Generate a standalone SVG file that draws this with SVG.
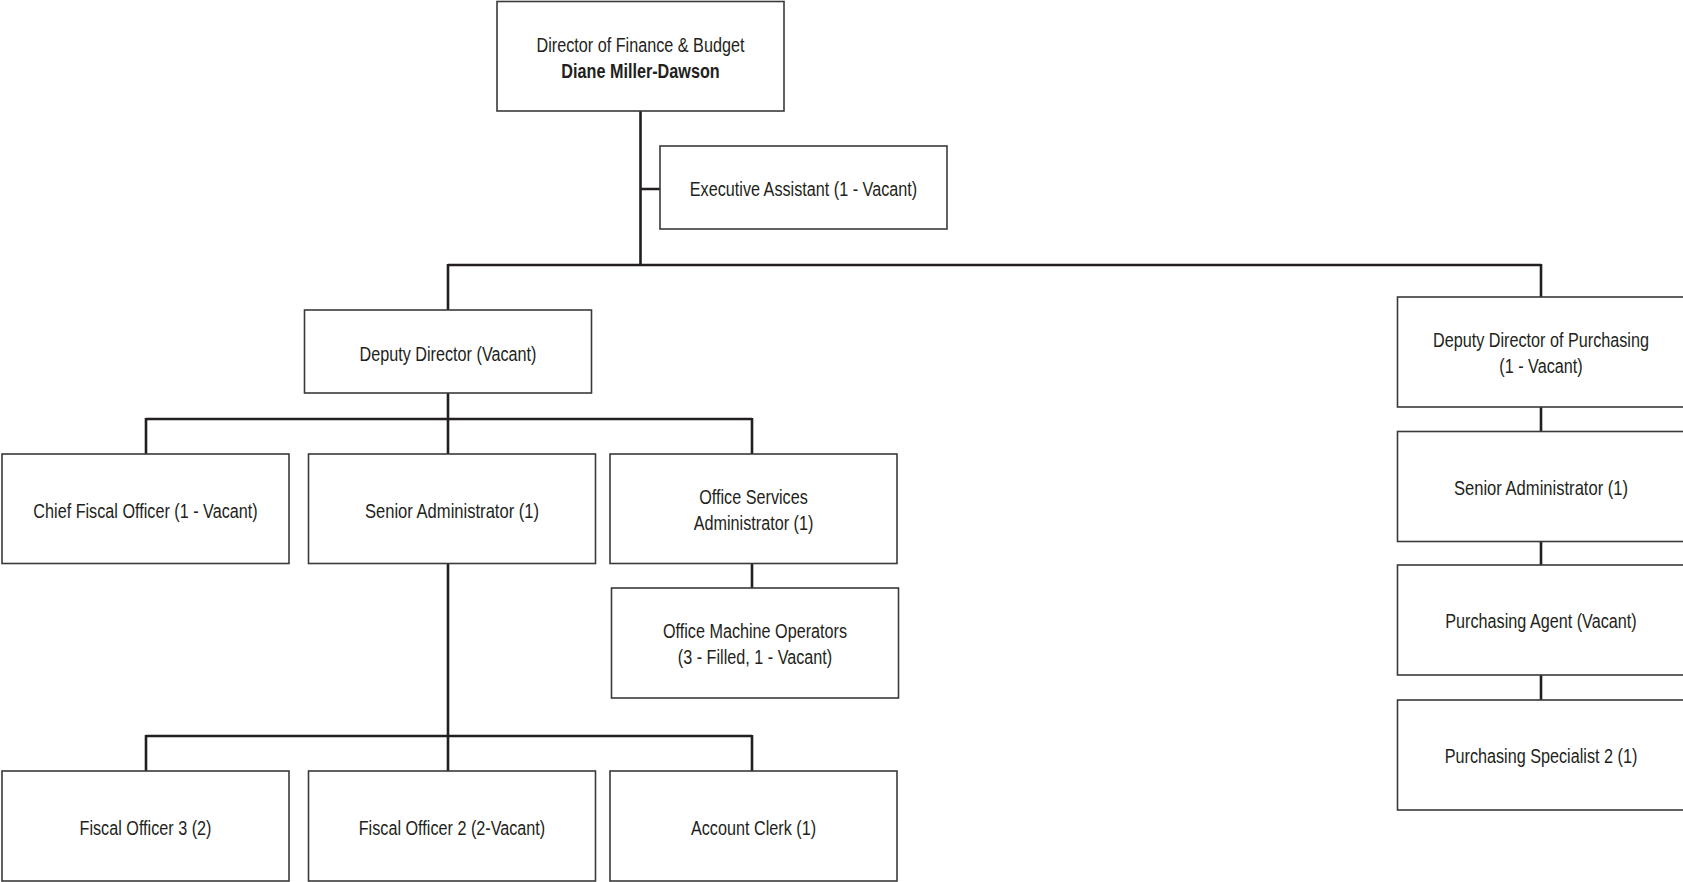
<svg xmlns="http://www.w3.org/2000/svg" width="1683" height="882" viewBox="0 0 1683 882">
  <style>
    .box { fill: #ffffff; stroke: #3a3a3a; stroke-width: 1.6; }
    .lbl { font-family: "Liberation Sans", Arial, sans-serif; font-size: 20px; fill: #231f20; text-anchor: middle; }
    .b { font-weight: bold; }
    .link { fill: none; stroke: #231f20; stroke-width: 2.6; stroke-linecap: butt; }
  </style>
  <rect width="1683" height="882" fill="#ffffff"/>

  <!-- reporting lines -->
  <g id="connectors">
    <path class="link" d="M640.5 111 V265 M640.5 189 H660"/>
    <path class="link" d="M448 265 H1541 M448 264 V310 M1541 264 V297"/>
    <path class="link" d="M448 393 V419 M146 419 H752 M146 418 V454 M448 419 V454 M752 418 V454"/>
    <path class="link" d="M448 563.5 V736 M146 736 H752 M146 735 V771 M448 736 V771 M752 735 V771"/>
    <path class="link" d="M752 563.5 V588"/>
    <path class="link" d="M1541 407 V431.5 M1541 541.5 V565 M1541 675 V700"/>
  </g>

  <!-- labels are set narrow: each text is anchored at its centre/baseline and squeezed horizontally -->
  <g id="director">
    <rect class="box" x="497" y="1.5" width="287" height="109.5"/>
    <text class="lbl" transform="translate(640.5 52) scale(0.81 1)">Director of Finance &amp; Budget</text>
    <text class="lbl b" transform="translate(640.5 78) scale(0.81 1)">Diane Miller-Dawson</text>
  </g>

  <g id="executive-assistant">
    <rect class="box" x="660" y="146" width="287" height="83"/>
    <text class="lbl" transform="translate(803.5 196) scale(0.81 1)">Executive Assistant (1 - Vacant)</text>
  </g>

  <g id="deputy-director">
    <rect class="box" x="304.5" y="310" width="287" height="83"/>
    <text class="lbl" transform="translate(448 361) scale(0.81 1)">Deputy Director (Vacant)</text>
  </g>

  <g id="chief-fiscal-officer">
    <rect class="box" x="2" y="454" width="287" height="109.5"/>
    <text class="lbl" transform="translate(145.5 518) scale(0.81 1)">Chief Fiscal Officer (1 - Vacant)</text>
  </g>

  <g id="senior-administrator">
    <rect class="box" x="308.5" y="454" width="287" height="109.5"/>
    <text class="lbl" transform="translate(452 518) scale(0.83 1)">Senior Administrator (1)</text>
  </g>

  <g id="office-services-administrator">
    <rect class="box" x="610" y="454" width="287" height="109.5"/>
    <text class="lbl" transform="translate(753.5 504) scale(0.81 1)">Office Services</text>
    <text class="lbl" transform="translate(753.5 530) scale(0.81 1)">Administrator (1)</text>
  </g>

  <g id="office-machine-operators">
    <rect class="box" x="611.5" y="588" width="287" height="110"/>
    <text class="lbl" transform="translate(755 638) scale(0.81 1)">Office Machine Operators</text>
    <text class="lbl" transform="translate(755 664) scale(0.81 1)">(3 - Filled, 1 - Vacant)</text>
  </g>

  <g id="fiscal-officer-3">
    <rect class="box" x="2" y="771" width="287" height="110"/>
    <text class="lbl" transform="translate(145.5 835) scale(0.81 1)">Fiscal Officer 3 (2)</text>
  </g>

  <g id="fiscal-officer-2">
    <rect class="box" x="308.5" y="771" width="287" height="110"/>
    <text class="lbl" transform="translate(452 835) scale(0.81 1)">Fiscal Officer 2 (2-Vacant)</text>
  </g>

  <g id="account-clerk">
    <rect class="box" x="610" y="771" width="287" height="110"/>
    <text class="lbl" transform="translate(753.5 835) scale(0.81 1)">Account Clerk (1)</text>
  </g>

  <g id="deputy-director-purchasing">
    <rect class="box" x="1397.5" y="297" width="287" height="110"/>
    <text class="lbl" transform="translate(1541 347) scale(0.81 1)">Deputy Director of Purchasing</text>
    <text class="lbl" transform="translate(1541 373) scale(0.81 1)">(1 - Vacant)</text>
  </g>

  <g id="senior-administrator-purchasing">
    <rect class="box" x="1397.5" y="431.5" width="287" height="110"/>
    <text class="lbl" transform="translate(1541 495) scale(0.83 1)">Senior Administrator (1)</text>
  </g>

  <g id="purchasing-agent">
    <rect class="box" x="1397.5" y="565" width="287" height="110"/>
    <text class="lbl" transform="translate(1541 628) scale(0.81 1)">Purchasing Agent (Vacant)</text>
  </g>

  <g id="purchasing-specialist-2">
    <rect class="box" x="1397.5" y="700" width="287" height="110"/>
    <text class="lbl" transform="translate(1541 763) scale(0.81 1)">Purchasing Specialist 2 (1)</text>
  </g>
</svg>
